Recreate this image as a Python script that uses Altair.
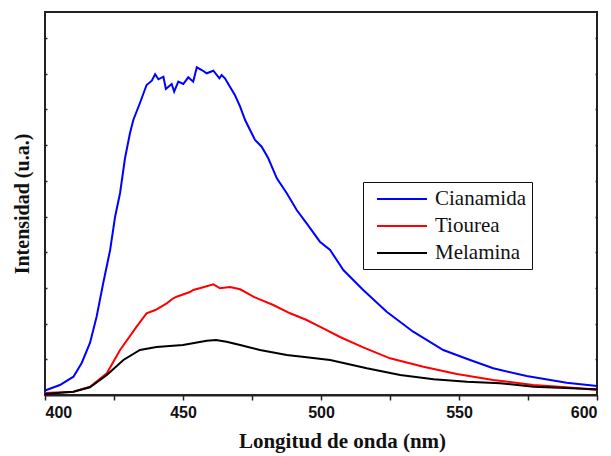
import altair as alt
import pandas as pd

series_names = ["Cianamida", "Tiourea", "Melamina"]
series_colors = ["#0000ff", "#ff0000", "#000000"]

# Cianamida (blue)
lam_cian = [400, 405.4, 410.3, 413.3, 416.3, 418.7, 421.1, 423.6, 425.4, 427.2, 429.0, 430.8,
            432.0, 434.4, 436.8, 438.7, 439.9, 441.1, 442.9, 443.8, 445.9, 446.8, 448.3, 450.1,
            451.9, 453.7, 455.0, 456.8, 458.6, 461.0, 463.2, 464.0, 465.2, 467.0, 468.8, 470.7,
            472.5, 474.3, 476.1, 478.5, 480.9, 484.0, 487.6, 491.2, 494.8, 499.6, 503.3, 508.1,
            515.3, 523.8, 533.4, 544.3, 554.0, 562.4, 574.5, 589.0, 600]
int_cian = [45, 100, 183, 320, 520, 783, 1120, 1450, 1783, 2020, 2370, 2620,
            2750, 2920, 3100, 3143, 3207, 3157, 3183, 3060, 3110, 3033, 3133, 3110,
            3177, 3133, 3277, 3250, 3217, 3243, 3167, 3200, 3167, 3083, 3000, 2883,
            2750, 2650, 2550, 2483, 2367, 2167, 2017, 1850, 1717, 1533, 1450, 1250,
            1050, 833, 633, 450, 350, 267, 190, 123, 90]

# Tiourea (red)
lam_tiou = [400, 410.3, 416.3, 422.4, 427.2, 433.2, 436.8, 440.0, 444.1, 446.5, 447.7, 452.5,
            453.7, 457.0, 461.0, 463.4, 467.0, 470.7, 475.5, 482.7, 488.8, 494.8, 500.8, 506.9,
            515.3, 525.0, 537.1, 549.2, 562.4, 576.9, 589.0, 600]
int_tiou = [20, 33, 83, 217, 450, 683, 817, 850, 917, 967, 983, 1030,
            1050, 1075, 1107, 1067, 1080, 1057, 983, 900, 817, 750, 667, 580,
            477, 367, 283, 210, 150, 100, 77, 50]

# Melamina (black)
lam_mela = [400, 410.3, 416.3, 422.4, 428.4, 434.4, 440.4, 450.0, 458.6, 462.0, 465.8, 470.7,
            477.9, 487.6, 494.8, 503.3, 516.6, 528.7, 540.8, 552.9, 564.9, 577.0, 600]
int_mela = [10, 33, 77, 200, 350, 450, 480, 500, 543, 550, 533, 500,
            450, 400, 377, 350, 267, 200, 157, 133, 117, 83, 57]

x_ticks = [400, 425, 450, 475, 500, 525, 550, 575, 600]
y_ticks = [357, 714, 1071, 1428, 1785, 2142, 2499, 2856, 3213, 3570]

rows = []
for name, lams, vals in [("Cianamida", lam_cian, int_cian),
                         ("Tiourea", lam_tiou, int_tiou),
                         ("Melamina", lam_mela, int_mela)]:
    for i, (l, v) in enumerate(zip(lams, vals)):
        rows.append({"serie": name, "lam": l, "val": v, "ord": i})
df = pd.DataFrame(rows)

xscale = alt.Scale(domain=[400, 600], nice=False, zero=False)
yscale = alt.Scale(domain=[0, 3830], nice=False, zero=False)

lines = alt.Chart(df).mark_line(strokeWidth=2).encode(
    x=alt.X("lam:Q", scale=xscale,
            axis=alt.Axis(title="Longitud de onda (nm)", values=x_ticks,
                          labelExpr="datum.value % 50 == 0 ? datum.label : ''",
                          tickSize=5, tickWidth=1.5, tickColor="#222",
                          domainWidth=2, domainColor="#222",
                          labelFont="Liberation Sans", labelFontWeight="bold",
                          labelFontSize=16, labelColor="#111", labelPadding=4,
                          titleFont="Liberation Serif", titleFontWeight="bold",
                          titleFontSize=21, titleColor="#111", titlePadding=10,
                          titleX=297, grid=False)),
    y=alt.Y("val:Q", scale=yscale,
            axis=alt.Axis(title="Intensidad (u.a.)", orient="left", values=y_ticks,
                          labels=False, domain=False, offset=-2, tickSize=2,
                          tickWidth=1.5, tickColor="#222",
                          titleFont="Liberation Serif", titleFontWeight="bold",
                          titleFontSize=20, titleColor="#111", titlePadding=12,
                          grid=False)),
    color=alt.Color("serie:N", sort=series_names,
                    scale=alt.Scale(domain=series_names, range=series_colors),
                    legend=alt.Legend(title=None, orient="none", legendX=318, legendY=170,
                                      symbolType="M-2.5,0H2.5", symbolSize=400,
                                      symbolStrokeWidth=2, labelFont="Liberation Serif",
                                      labelFontSize=21, labelColor="#111", labelOffset=22,
                                      padding=6, symbolOffset=22, rowPadding=6,
                                      strokeColor="#111", fillColor="white")),
    order="ord:Q",
)

right_axis = alt.Chart(df).mark_line(opacity=0).encode(
    x=alt.X("lam:Q", scale=xscale, axis=None),
    y=alt.Y("val:Q", scale=yscale,
            axis=alt.Axis(title=None, orient="right", values=y_ticks, labels=False,
                          domain=False, offset=-2, tickSize=2, tickWidth=1.5,
                          tickColor="#222", grid=False)),
    detail="serie:N",
    order="ord:Q",
)

chart = alt.layer(lines, right_axis).resolve_axis(x="independent", y="independent").properties(
    width=552, height=383,
    autosize=alt.AutoSizeParams(type="none"),
    padding={"left": 37, "top": 4, "right": 6, "bottom": 60},
).configure_view(stroke="#222", strokeWidth=2)

chart.save("out.html", embed_options={"renderer": "svg", "actions": False})
